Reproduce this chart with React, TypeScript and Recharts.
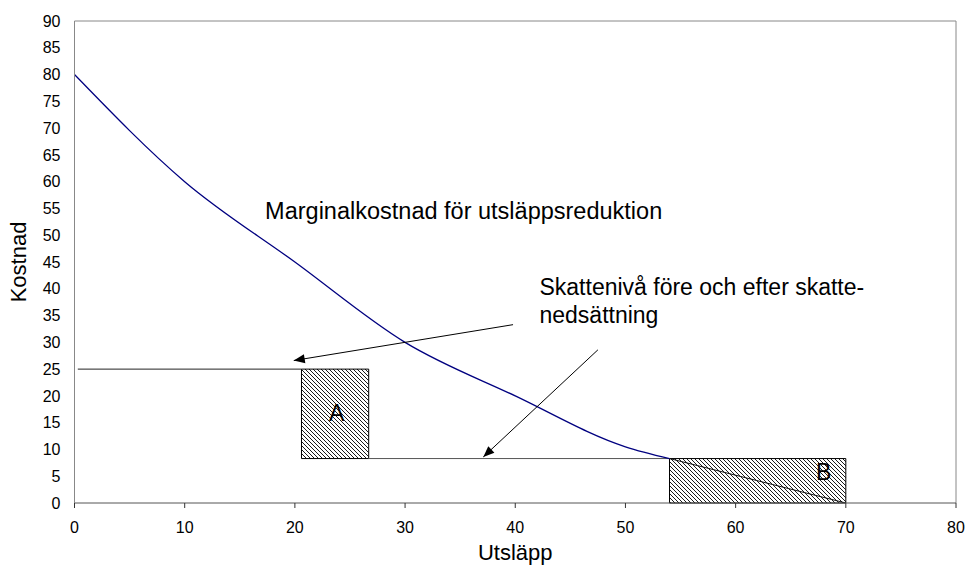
import React from 'react';
import {
  ComposedChart,
  Line,
  XAxis,
  YAxis,
  ReferenceArea,
  ReferenceLine,
  ReferenceDot,
} from 'recharts';

// x-axis / y-axis ticks
const xTicks = [0, 10, 20, 30, 40, 50, 60, 70, 80];
const yTicks = [0, 5, 10, 15, 20, 25, 30, 35, 40, 45, 50, 55, 60, 65, 70, 75, 80, 85, 90];

// marginalkostnadskurvan
const curveX = [0, 10, 20, 30, 40, 50, 54];
const curveY = [80, 60, 45, 30, 20, 10.5, 8.3];
const curveData = curveX.map((x, i) => ({ x, y: curveY[i] }));

// fortsättning av kurvan inne i B
const tailData = [
  { x: 54, y: 8.3 },
  { x: 70, y: 0 },
];

// skattenivåer
const taxHigh = 25;
const taxLow = 8.3;
const taxHighLine = [
  { x: 0.3, y: taxHigh },
  { x: 20.6, y: taxHigh },
];
const taxLowLine = [
  { x: 26.7, y: taxLow },
  { x: 54, y: taxLow },
];

// ytor A och B
const boxA = { x1: 20.6, x2: 26.7, y1: taxLow, y2: taxHigh };
const boxB = { x1: 54, x2: 70, y1: 0, y2: taxLow };

// pilar (start -> spets)
const arrowHigh = [
  { x: 39.8, y: 33.3 },
  { x: 19.9, y: 26.6 },
];
const arrowLow = [
  { x: 47.5, y: 28.6 },
  { x: 37.1, y: 8.6 },
];

const font = 'Liberation Sans, Arial, sans-serif';

function textLabel(lines: string[], size: number, anchor: 'start' | 'middle', gap = 28) {
  return (props: any) => {
    const vb = props.viewBox || {};
    const x = (vb.x ?? 0) + (vb.width ?? 0) / 2;
    const y = (vb.y ?? 0) + (vb.height ?? 0) / 2;
    return (
      <text x={x} y={y} fontSize={size} fill="#000" textAnchor={anchor} fontFamily={font}>
        {lines.map((l, i) => (
          <tspan key={i} x={x} dy={i === 0 ? 0 : gap}>
            {l}
          </tspan>
        ))}
      </text>
    );
  };
}

const arrowHead = (props: any) => {
  const { cx, cy, index, points } = props;
  if (index !== 1 || !points || points.length < 2) return <g key={`a-${index}`} />;
  const p0 = points[0];
  const ang = Math.atan2(cy - p0.y, cx - p0.x);
  const len = 11;
  const w = 4.5;
  const bx = cx - len * Math.cos(ang);
  const by = cy - len * Math.sin(ang);
  const nx = -Math.sin(ang) * w;
  const ny = Math.cos(ang) * w;
  return (
    <polygon
      key={`a-${index}`}
      points={`${cx},${cy} ${bx + nx},${by + ny} ${bx - nx},${by - ny}`}
      fill="#000"
    />
  );
};

export default function App() {
  return (
    <div style={{ position: 'absolute', left: 0, top: 0, background: '#fff' }}>
      <svg width={0} height={0} style={{ position: 'absolute' }}>
        <defs>
          <pattern id="hatch" width={4} height={4} patternUnits="userSpaceOnUse">
            <rect width={4} height={4} fill="#fff" />
            <path d="M-1,-1 L5,5 M-1,3 L1,5 M3,-1 L5,1" stroke="#000" strokeWidth={0.9} />
          </pattern>
        </defs>
      </svg>
      <ComposedChart
        width={968}
        height={566}
        margin={{ top: 21, right: 12, left: 0, bottom: 0 }}
        style={{ fontFamily: font }}
      >
        <XAxis
          type="number"
          dataKey="x"
          domain={[0, 80]}
          ticks={xTicks}
          interval={0}
          allowDataOverflow
          height={63}
          tickSize={5}
          tickMargin={14}
          stroke="#555"
          tickLine={{ stroke: '#333' }}
          tick={{ fill: '#000', fontSize: 16 }}
          label={{ value: 'Utsläpp', position: 'insideBottom', offset: 6, fontSize: 22, fill: '#000' }}
        />
        <YAxis
          type="number"
          dataKey="y"
          domain={[0, 90]}
          ticks={yTicks}
          interval={0}
          allowDataOverflow
          width={74.5}
          tickSize={0}
          tickMargin={14}
          stroke="#888"
          tick={{ fill: '#000', fontSize: 16 }}
          label={{
            value: 'Kostnad',
            angle: -90,
            position: 'insideLeft',
            offset: 18,
            fontSize: 22,
            fill: '#000',
            style: { textAnchor: 'middle' },
          }}
        />
        <ReferenceLine y={90} stroke="#888" />
        <ReferenceLine x={80} stroke="#888" />

        <ReferenceArea {...boxA} fill="url(#hatch)" fillOpacity={1} stroke="#000" strokeWidth={1} />
        <ReferenceArea {...boxB} fill="url(#hatch)" fillOpacity={1} stroke="#000" strokeWidth={1} />

        <Line data={taxHighLine} dataKey="y" stroke="#222" strokeWidth={1} dot={false} isAnimationActive={false} />
        <Line data={taxLowLine} dataKey="y" stroke="#555" strokeWidth={1} dot={false} isAnimationActive={false} />
        <Line data={tailData} dataKey="y" stroke="#111" strokeWidth={1} dot={false} isAnimationActive={false} />
        <Line
          data={curveData}
          dataKey="y"
          type="monotone"
          stroke="#000080"
          strokeWidth={1.3}
          dot={false}
          isAnimationActive={false}
        />
        <Line data={arrowHigh} dataKey="y" stroke="#000" strokeWidth={1} dot={arrowHead} isAnimationActive={false} />
        <Line data={arrowLow} dataKey="y" stroke="#000" strokeWidth={1} dot={arrowHead} isAnimationActive={false} />

        <ReferenceDot
          x={17.3}
          y={53.1}
          r={0}
          fill="none"
          stroke="none"
          label={textLabel(['Marginalkostnad för utsläppsreduktion'], 23.5, 'start')}
        />
        <ReferenceDot
          x={42.2}
          y={38.8}
          r={0}
          fill="none"
          stroke="none"
          label={textLabel(['Skattenivå före och efter skatte-', 'nedsättning'], 23, 'start')}
        />
        <ReferenceDot x={23.8} y={15.25} r={0} fill="none" stroke="none" label={textLabel(['A'], 23, 'middle')} />
        <ReferenceDot x={68.0} y={4.24} r={0} fill="none" stroke="none" label={textLabel(['B'], 23, 'middle')} />
      </ComposedChart>
    </div>
  );
}
